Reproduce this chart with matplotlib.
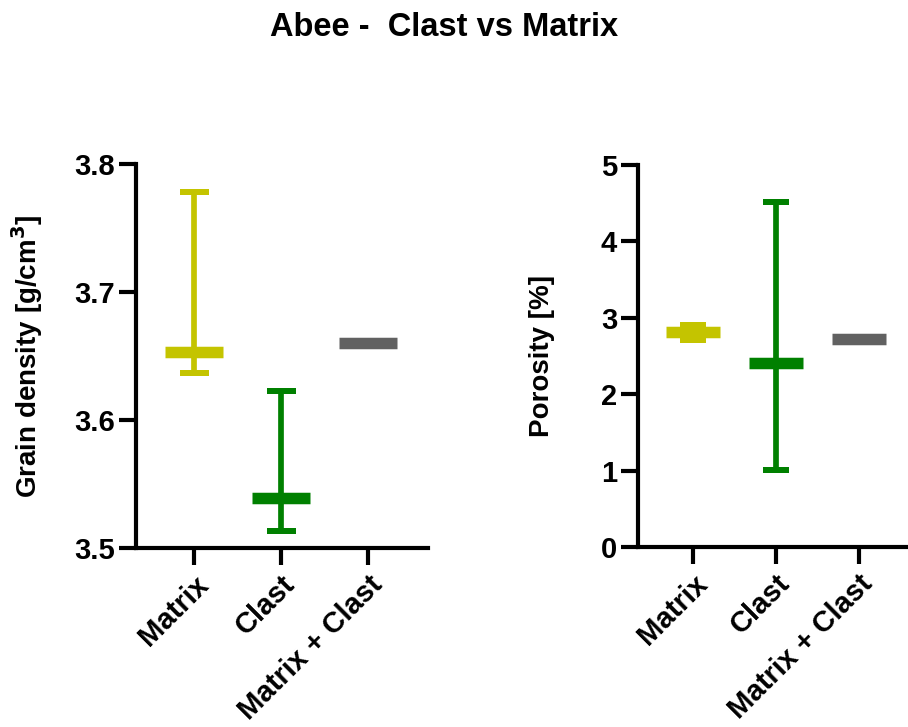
"""Abee clast vs matrix: grain density and porosity ranges."""

import matplotlib

matplotlib.use("Agg")
import matplotlib.pyplot as plt

plt.rcParams["font.family"] = ["Liberation Sans", "DejaVu Sans"]
plt.rcParams["font.weight"] = "bold"

categories = ["Matrix", "Clast", "Matrix + Clast"]
colors = ["#c4c400", "#008000", "#616161"]

# grain density [g/cm3]: mean with min/max
density_mean = [3.653, 3.539, 3.660]
density_low = [3.637, 3.513, 3.660]
density_high = [3.778, 3.623, 3.660]

# porosity [%]
porosity_mean = [2.81, 2.41, 2.72]
porosity_low = [2.71, 1.01, 2.72]
porosity_high = [2.91, 4.52, 2.72]

PX = 72 / 100  # points per pixel at dpi 100


def draw_panel(ax, mean, low, high, ylim, yticks, ylabel, bar_px, cap_px, label_x):
    for i, (m, lo, hi, c) in enumerate(zip(mean, low, high, colors)):
        if hi > lo:
            ax.errorbar(
                [i], [m], yerr=[[m - lo], [hi - m]], fmt="none", ecolor=c,
                elinewidth=5.7 * PX, capsize=cap_px * PX / 2, capthick=6 * PX,
                zorder=2,
            )
        ax.plot([i], [m], marker="_", markersize=bar_px * PX,
                markeredgewidth=11.5 * PX, color=c, linestyle="none", zorder=3)

    ax.set_xlim(-0.665, 2.69)
    ax.set_ylim(*ylim)
    ax.set_yticks(yticks)
    ax.set_xticks(range(len(categories)))
    ax.set_xticklabels(categories, rotation=45, ha="right", rotation_mode="anchor")
    for side in ("top", "right"):
        ax.spines[side].set_visible(False)
    for side in ("left", "bottom"):
        ax.spines[side].set_linewidth(3)
    ax.tick_params(width=3, length=12, pad=4)
    ax.tick_params(axis="y", labelsize=21, pad=3)
    ax.tick_params(axis="x", labelsize=21)
    ax.set_ylabel(ylabel, fontsize=20, fontweight="bold")
    ax.yaxis.set_label_coords(label_x, 0.5)


fig = plt.figure(figsize=(9.08, 7.27), dpi=100)
ax_left = fig.add_axes([0.1498, 0.2462, 0.3216, 0.5278])
ax_right = fig.add_axes([0.7026, 0.2476, 0.306, 0.5254])

draw_panel(ax_left, density_mean, density_low, density_high, (3.5, 3.8),
           [3.5, 3.6, 3.7, 3.8], r"Grain density [g/cm$^\mathbf{3}$]", 58, 29, -0.31)
ax_left.set_yticklabels(["3.5", "3.6", "3.7", "3.8"])
draw_panel(ax_right, porosity_mean, porosity_low, porosity_high, (0, 5),
           [0, 1, 2, 3, 4, 5], "Porosity [%]", 54, 27, -0.30)

fig.suptitle("Abee -  Clast vs Matrix", fontsize=23.5, fontweight="bold",
             x=0.489, y=0.983)

fig.savefig("out.png", dpi=100)
plt.close(fig)
